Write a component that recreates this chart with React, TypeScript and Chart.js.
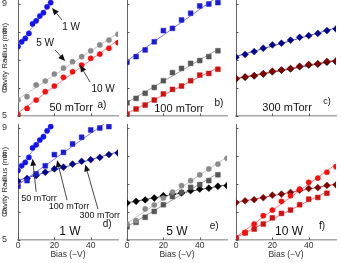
import React, { useEffect, useRef } from "react";
import { Chart, registerables } from "chart.js";
Chart.register(...registerables);

// ---------- data ----------
const biasFine = [0, 2, 4, 6, 8, 10, 12, 14, 16, 18];
const bias50 = [0, 5, 10, 15, 20, 25, 30, 35, 40, 45, 50];
const bias55 = [0, 5, 10, 15, 20, 25, 30, 35, 40, 45, 50, 55];

// 50 mTorr (circles)
const r50_1W = [7.48, 7.65, 7.77, 7.95, 8.29, 8.4, 8.57, 8.69, 8.9, 9.05];
const r50_5W = [5.57, 5.69, 6.11, 6.25, 6.5, 6.71, 6.94, 7.12, 7.33, 7.54, 7.71, 7.92];
const r50_10W = [5.05, 5.27, 5.57, 5.87, 6.07, 6.38, 6.58, 6.82, 7.06, 7.21, 7.42, 7.62];
// 100 mTorr (squares)
const r100_1W = [6.92, 7.12, 7.36, 7.65, 8.05, 8.13, 8.43, 8.67, 8.93, 9.0, 9.05];
const r100_5W = [5.47, 5.63, 5.81, 6.02, 6.26, 6.55, 6.7, 6.88, 6.98, 7.12, 7.33];
const r100_10W = [5.07, 5.25, 5.39, 5.57, 5.79, 5.95, 6.07, 6.26, 6.46, 6.52, 6.67];
// 300 mTorr (diamonds)
const r300_1W = [7.1, 7.2, 7.3, 7.42, 7.54, 7.6, 7.71, 7.81, 7.87, 7.95, 8.05, 8.11];
const r300_5W = [6.32, 6.38, 6.43, 6.5, 6.58, 6.64, 6.68, 6.76, 6.82, 6.85, 6.92, 6.94];
const r300_10W = [6.34, 6.4, 6.44, 6.51, 6.6, 6.64, 6.7, 6.78, 6.84, 6.87, 6.95, 6.97];

const xTicks = [0, 20, 40];
const yTicks = [5, 6, 7, 8, 9];

const FONT = '"Liberation Sans", Arial, Helvetica, sans-serif';

type Series = { xs: number[]; ys: number[]; color: string; line: string; shape: string; r: number };

const S: Record<string, Series> = {
  a1: { xs: biasFine, ys: r50_1W, color: "#1212f2", line: "#8585ff", shape: "circle", r: 2.6 },
  a5: { xs: bias55, ys: r50_5W, color: "#8a8a8a", line: "#c4c4c4", shape: "circle", r: 2.6 },
  a10: { xs: bias55, ys: r50_10W, color: "#ff0a0a", line: "#ff7a7a", shape: "circle", r: 2.6 },
  b1: { xs: bias50, ys: r100_1W, color: "#1a1ad8", line: "#7878f0", shape: "rect", r: 3.4 },
  b5: { xs: bias50, ys: r100_5W, color: "#555555", line: "#a0a0a0", shape: "rect", r: 3.4 },
  b10: { xs: bias50, ys: r100_10W, color: "#d01010", line: "#f07878", shape: "rect", r: 3.4 },
  c1: { xs: bias55, ys: r300_1W, color: "#00008b", line: "#5555c0", shape: "rectRot", r: 3.4 },
  c5: { xs: bias55, ys: r300_5W, color: "#000000", line: "#555555", shape: "rectRot", r: 3.4 },
  c10: { xs: bias55, ys: r300_10W, color: "#800000", line: "#c05555", shape: "rectRot", r: 3.4 },
};

function fitLine(xs: number[], ys: number[]) {
  const n = xs.length;
  const mx = xs.reduce((a, b) => a + b, 0) / n;
  const my = ys.reduce((a, b) => a + b, 0) / n;
  let sxy = 0, sxx = 0;
  for (let i = 0; i < n; i++) {
    sxy += (xs[i] - mx) * (ys[i] - my);
    sxx += (xs[i] - mx) * (xs[i] - mx);
  }
  const b = sxy / sxx;
  const a = my - b * mx;
  const x0 = xs[0], x1 = xs[n - 1];
  return [{ x: x0, y: a + b * x0 }, { x: x1, y: a + b * x1 }];
}

type Txt = { t: string; x: number; y: number; s: number };
type Arr = { x0: number; y0: number; x1: number; y1: number };
type PanelCfg = {
  key: string; col: number; row: number; series: string[]; texts: Txt[]; arrows: Arr[];
};

const panels: PanelCfg[] = [
  {
    key: "a", col: 0, row: 0, series: ["a1", "a5", "a10"],
    texts: [
      { t: "1 W", x: 29.2, y: 8.18, s: 10 },
      { t: "5 W", x: 14.9, y: 7.61, s: 10 },
      { t: "10 W", x: 46.8, y: 5.96, s: 10 },
      { t: "50 mTorr", x: 29.2, y: 5.29, s: 11 },
      { t: "a)", x: 46.2, y: 5.39, s: 10 },
    ],
    arrows: [
      { x0: 24.2, y0: 8.43, x1: 18.7, y1: 8.86 },
      { x0: 20.4, y0: 7.36, x1: 25.9, y1: 6.96 },
      { x0: 39.6, y0: 6.21, x1: 34.1, y1: 6.82 },
    ],
  },
  {
    key: "b", col: 1, row: 0, series: ["b1", "b5", "b10"],
    texts: [
      { t: "100 mTorr", x: 28.6, y: 5.25, s: 11 },
      { t: "b)", x: 50.6, y: 5.46, s: 10 },
    ],
    arrows: [],
  },
  {
    key: "c", col: 2, row: 0, series: ["c1", "c10", "c5"],
    texts: [
      { t: "300 mTorr", x: 28.1, y: 5.29, s: 11 },
      { t: "c)", x: 50, y: 5.5, s: 9 },
    ],
    arrows: [],
  },
  {
    key: "d", col: 0, row: 1, series: ["a1", "b1", "c1"],
    texts: [
      { t: "1 W", x: 28.6, y: 5.3, s: 12 },
      { t: "d)", x: 49, y: 5.56, s: 10 },
      { t: "50 mTorr", x: 11.5, y: 6.48, s: 9 },
      { t: "100 mTorr", x: 28, y: 6.18, s: 9 },
      { t: "300 mTorr", x: 45, y: 5.86, s: 9 },
    ],
    arrows: [
      { x0: 10, y0: 6.72, x1: 8.0, y1: 7.9 },
      { x0: 27, y0: 6.42, x1: 21.5, y1: 7.85 },
      { x0: 44, y0: 6.1, x1: 37, y1: 7.7 },
    ],
  },
  {
    key: "e", col: 1, row: 1, series: ["a5", "b5", "c5"],
    texts: [
      { t: "5 W", x: 27.5, y: 5.3, s: 12 },
      { t: "e)", x: 47.9, y: 5.48, s: 10 },
    ],
    arrows: [],
  },
  {
    key: "f", col: 2, row: 1, series: ["a10", "b10", "c10"],
    texts: [
      { t: "10 W", x: 29.2, y: 5.3, s: 12 },
      { t: "f)", x: 47.3, y: 5.48, s: 10 },
    ],
    arrows: [],
  },
];

// ---------- geometry ----------
const PLOT_LEFT = [18, 127, 236];
const PLOT_W = 100;
const PLOT_TOP = [0, 124];
const PLOT_H = 116;
const PAD_TOP = 4;
const PAD_RIGHT = 4;

const annotPlugin = {
  id: "annot",
  afterDraw(chart: any, _args: any, opts: any) {
    const { ctx, chartArea } = chart;
    const xs = chart.scales.x;
    const ys = chart.scales.y;
    ctx.save();
    // inward ticks
    ctx.strokeStyle = "#555";
    ctx.lineWidth = 1;
    ctx.beginPath();
    for (const v of xTicks) {
      const px = Math.round(xs.getPixelForValue(v)) + 0.5;
      ctx.moveTo(px, chartArea.bottom);
      ctx.lineTo(px, chartArea.bottom - 2.5);
    }
    for (const v of yTicks) {
      const py = Math.round(ys.getPixelForValue(v)) + 0.5;
      ctx.moveTo(chartArea.left, py);
      ctx.lineTo(chartArea.left + 2.5, py);
    }
    ctx.stroke();
    // arrows
    for (const a of opts.arrows as Arr[]) {
      const x0 = xs.getPixelForValue(a.x0), y0 = ys.getPixelForValue(a.y0);
      const x1 = xs.getPixelForValue(a.x1), y1 = ys.getPixelForValue(a.y1);
      const ang = Math.atan2(y1 - y0, x1 - x0);
      const L = 7, W = 3;
      const bx = x1 - L * Math.cos(ang), by = y1 - L * Math.sin(ang);
      ctx.strokeStyle = "#333";
      ctx.lineWidth = 0.9;
      ctx.beginPath();
      ctx.moveTo(x0, y0);
      ctx.lineTo(bx, by);
      ctx.stroke();
      ctx.fillStyle = "#111";
      ctx.beginPath();
      ctx.moveTo(x1, y1);
      ctx.lineTo(bx + W * Math.sin(ang), by - W * Math.cos(ang));
      ctx.lineTo(bx - W * Math.sin(ang), by + W * Math.cos(ang));
      ctx.closePath();
      ctx.fill();
    }
    // texts
    ctx.fillStyle = "#111";
    ctx.textAlign = "center";
    ctx.textBaseline = "middle";
    for (const t of opts.texts as Txt[]) {
      ctx.font = `${t.s}px ${FONT}`;
      ctx.fillText(t.t, xs.getPixelForValue(t.x), ys.getPixelForValue(t.y));
    }
    ctx.restore();
  },
};

function geometry(p: PanelCfg) {
  const yW = p.col === 0 ? 18 : 4;
  const xH = p.row === 0 ? 4 : 23;
  const left = PLOT_LEFT[p.col] - yW;
  const top = PLOT_TOP[p.row] - PAD_TOP;
  const w = yW + PLOT_W + PAD_RIGHT;
  const h = PAD_TOP + PLOT_H + xH;
  return { yW, xH, left, top, w, h };
}

function Panel({ p }: { p: PanelCfg }) {
  const ref = useRef<HTMLCanvasElement>(null);
  const g = geometry(p);
  useEffect(() => {
    const showY = p.col === 0;
    const showX = p.row === 1;
    const datasets: any[] = [];
    for (const k of p.series) {
      const s = S[k];
      datasets.push({
        data: s.xs.map((x, i) => ({ x, y: s.ys[i] })),
        pointStyle: s.shape,
        pointRadius: s.r,
        pointBackgroundColor: s.color,
        pointBorderColor: s.color,
        pointBorderWidth: 0.5,
        showLine: false,
        order: 0,
      });
      datasets.push({
        data: fitLine(s.xs, s.ys),
        showLine: true,
        borderColor: s.line,
        borderWidth: 1,
        pointRadius: 0,
        order: 1,
      });
    }
    const chart = new Chart(ref.current!, {
      type: "scatter",
      data: { datasets },
      plugins: [annotPlugin],
      options: {
        animation: false,
        responsive: false,
        devicePixelRatio: 1,
        events: [],
        layout: { autoPadding: false, padding: { left: 0, right: PAD_RIGHT, top: PAD_TOP, bottom: 0 } },
        plugins: {
          legend: { display: false },
          tooltip: { enabled: false },
          annot: { texts: p.texts, arrows: p.arrows },
        } as any,
        scales: {
          x: {
            type: "linear",
            min: 0,
            max: 55,
            afterBuildTicks: (s: any) => { s.ticks = xTicks.map((v) => ({ value: v })); },
            afterFit: (s: any) => {
              s.height = g.xH;
              s.paddingLeft = 0; s.paddingRight = 0; s.paddingTop = 0; s.paddingBottom = 0;
            },
            ticks: {
              display: showX, autoSkip: false, maxRotation: 0, padding: 1,
              color: "#333", font: { size: 8.5, family: FONT },
            },
            grid: { display: true, drawOnChartArea: false, drawTicks: false },
            border: { display: true, color: "#a8a8a8", width: 1.5 },
            title: {
              display: showX, text: "Bias (−V)", color: "#333",
              font: { size: 8.5, family: FONT }, padding: { top: 0, bottom: 3 },
            },
          },
          y: {
            type: "linear",
            min: 5,
            max: 9.143,
            afterBuildTicks: (s: any) => { s.ticks = yTicks.map((v) => ({ value: v })); },
            afterFit: (s: any) => {
              s.width = g.yW;
              s.paddingLeft = 0; s.paddingRight = 0; s.paddingTop = 0; s.paddingBottom = 0;
            },
            ticks: {
              display: showY, padding: 11, color: "#333",
              font: { size: 9, family: FONT },
            },
            grid: { display: true, drawOnChartArea: false, drawTicks: false },
            border: { display: true, color: "#666", width: 1 },
            title: {
              display: showY, text: "Cavity Radius (mm)", color: "#333",
              font: { size: 8, family: FONT }, padding: { top: 0, bottom: 0 },
            },
          },
        },
      } as any,
    });
    return () => chart.destroy();
  }, []);
  return (
    <canvas
      ref={ref}
      width={g.w}
      height={g.h}
      style={{ position: "absolute", left: g.left, top: g.top, width: g.w, height: g.h }}
    />
  );
}

export default function App() {
  return (
    <div style={{ position: "fixed", left: 0, top: 0, width: 341, height: 263, overflow: "hidden", background: "#fff" }}>
      {panels.map((p) => (
        <Panel key={p.key} p={p} />
      ))}
    </div>
  );
}
